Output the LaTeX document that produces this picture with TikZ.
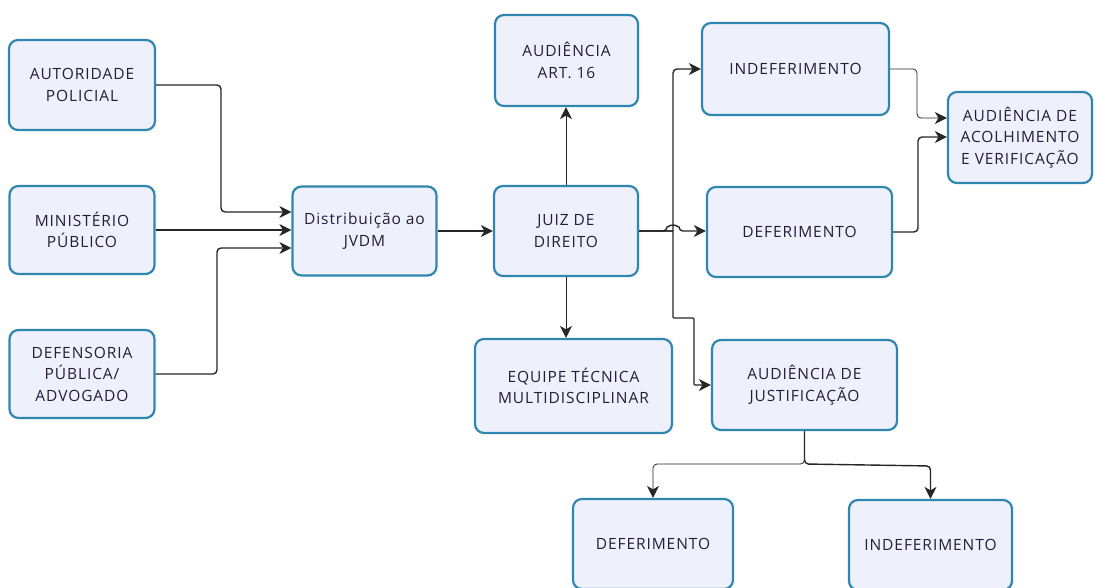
\documentclass[tikz,border=0pt]{standalone}
\usepackage{fontspec}
\setmainfont{Open Sans}[LetterSpace=6]
\usetikzlibrary{arrows.meta}
\definecolor{boxfill}{HTML}{EEF1FC}
\definecolor{boxline}{HTML}{2F86B0}
\definecolor{txt}{HTML}{241E38}
\begin{document}
\begin{tikzpicture}[x=1pt,y=-1pt,
 box/.style={draw=boxline, fill=boxfill, line width=2.2pt, rounded corners=9pt, align=center, text=txt, font=\fontsize{15.5}{21.5}\selectfont, inner sep=0pt},
 conn/.style={draw=black!85, line width=1.4pt, rounded corners=4pt, -{Stealth[length=12pt,width=12pt,inset=3.5pt]}},
 thinconn/.style={conn, line width=0.8pt}]
\useasboundingbox[fill=white] (0,0) rectangle (1096,588);
% nodes
\node[box, minimum width=146pt, minimum height=90pt] (aut) at (82,85) {AUTORIDADE\\POLICIAL};
\node[box, minimum width=145pt, minimum height=88pt] (min) at (82,230) {MINISTÉRIO\\PÚBLICO};
\node[box, minimum width=145pt, minimum height=88pt] (def) at (82,374) {DEFENSORIA\\PÚBLICA/\\ADVOGADO};
\node[box, minimum width=144pt, minimum height=89pt] (dist) at (364.5,231) {Distribuição ao\\JVDM};
\node[box, minimum width=144pt, minimum height=90pt] (juiz) at (566,231) {JUIZ DE\\DIREITO};
\node[box, minimum width=143pt, minimum height=91pt] (art) at (566.5,60.5) {AUDIÊNCIA\\ART. 16};
\node[box, minimum width=187pt, minimum height=92pt] (indefa) at (795.5,69) {INDEFERIMENTO};
\node[box, minimum width=185pt, minimum height=90pt] (defera) at (799.5,232) {DEFERIMENTO};
\node[box, minimum width=144pt, minimum height=91pt] (acol) at (1020,137.5) {AUDIÊNCIA DE\\ACOLHIMENTO\\E VERIFICAÇÃO};
\node[box, minimum width=197pt, minimum height=94pt] (equipe) at (573.5,386) {EQUIPE TÉCNICA\\MULTIDISCIPLINAR};
\node[box, minimum width=185pt, minimum height=90pt] (just) at (804.5,385) {AUDIÊNCIA DE\\JUSTIFICAÇÃO};
\node[box, minimum width=160pt, minimum height=90pt] (deferb) at (653,544) {DEFERIMENTO};
\node[box, minimum width=163pt, minimum height=90pt] (indefb) at (930.5,545) {INDEFERIMENTO};
% connectors
\draw[conn] (aut.east) -- (221,85) -- (221,212) -- (dist.west |- 0,212);
\draw[conn] (min.east) -- (dist.west |- min.east);
\draw[conn] (def.east) -- (217,374) -- (217,248) -- (dist.west |- 0,248);
\draw[conn] (dist.east) -- (juiz.west);
\draw[thinconn] (juiz.north) -- (art.south -| juiz.north);
\draw[thinconn] (juiz.south) -- (juiz.south |- equipe.north);
\draw[conn, rounded corners=0pt] (juiz.east) -- (673,231) -- (673,75) [rounded corners=4pt] -- (673,69) -- (indefa.west);
\draw[conn, rounded corners=1pt] (juiz.east) -- (673,231) -- (673,318) -- (694,318) -- (694,385) -- (just.west);
\draw[conn] (juiz.east) -- (667,231) arc[start angle=180, end angle=360, radius=6] -- (defera.west |- juiz.east);
\draw[thinconn] (indefa.east) -- (917,69) -- (917,118) -- (acol.west |- 0,118);
\draw[conn] (defera.east) -- (918,232) -- (918,137) -- (acol.west |- 0,137);
\draw[thinconn] (just.south) -- (804.5,464) -- (653,464) -- (deferb.north);
\draw[conn] (just.south) -- (804.5,464) -- (930.5,466) -- (indefb.north);
\end{tikzpicture}
\end{document}
